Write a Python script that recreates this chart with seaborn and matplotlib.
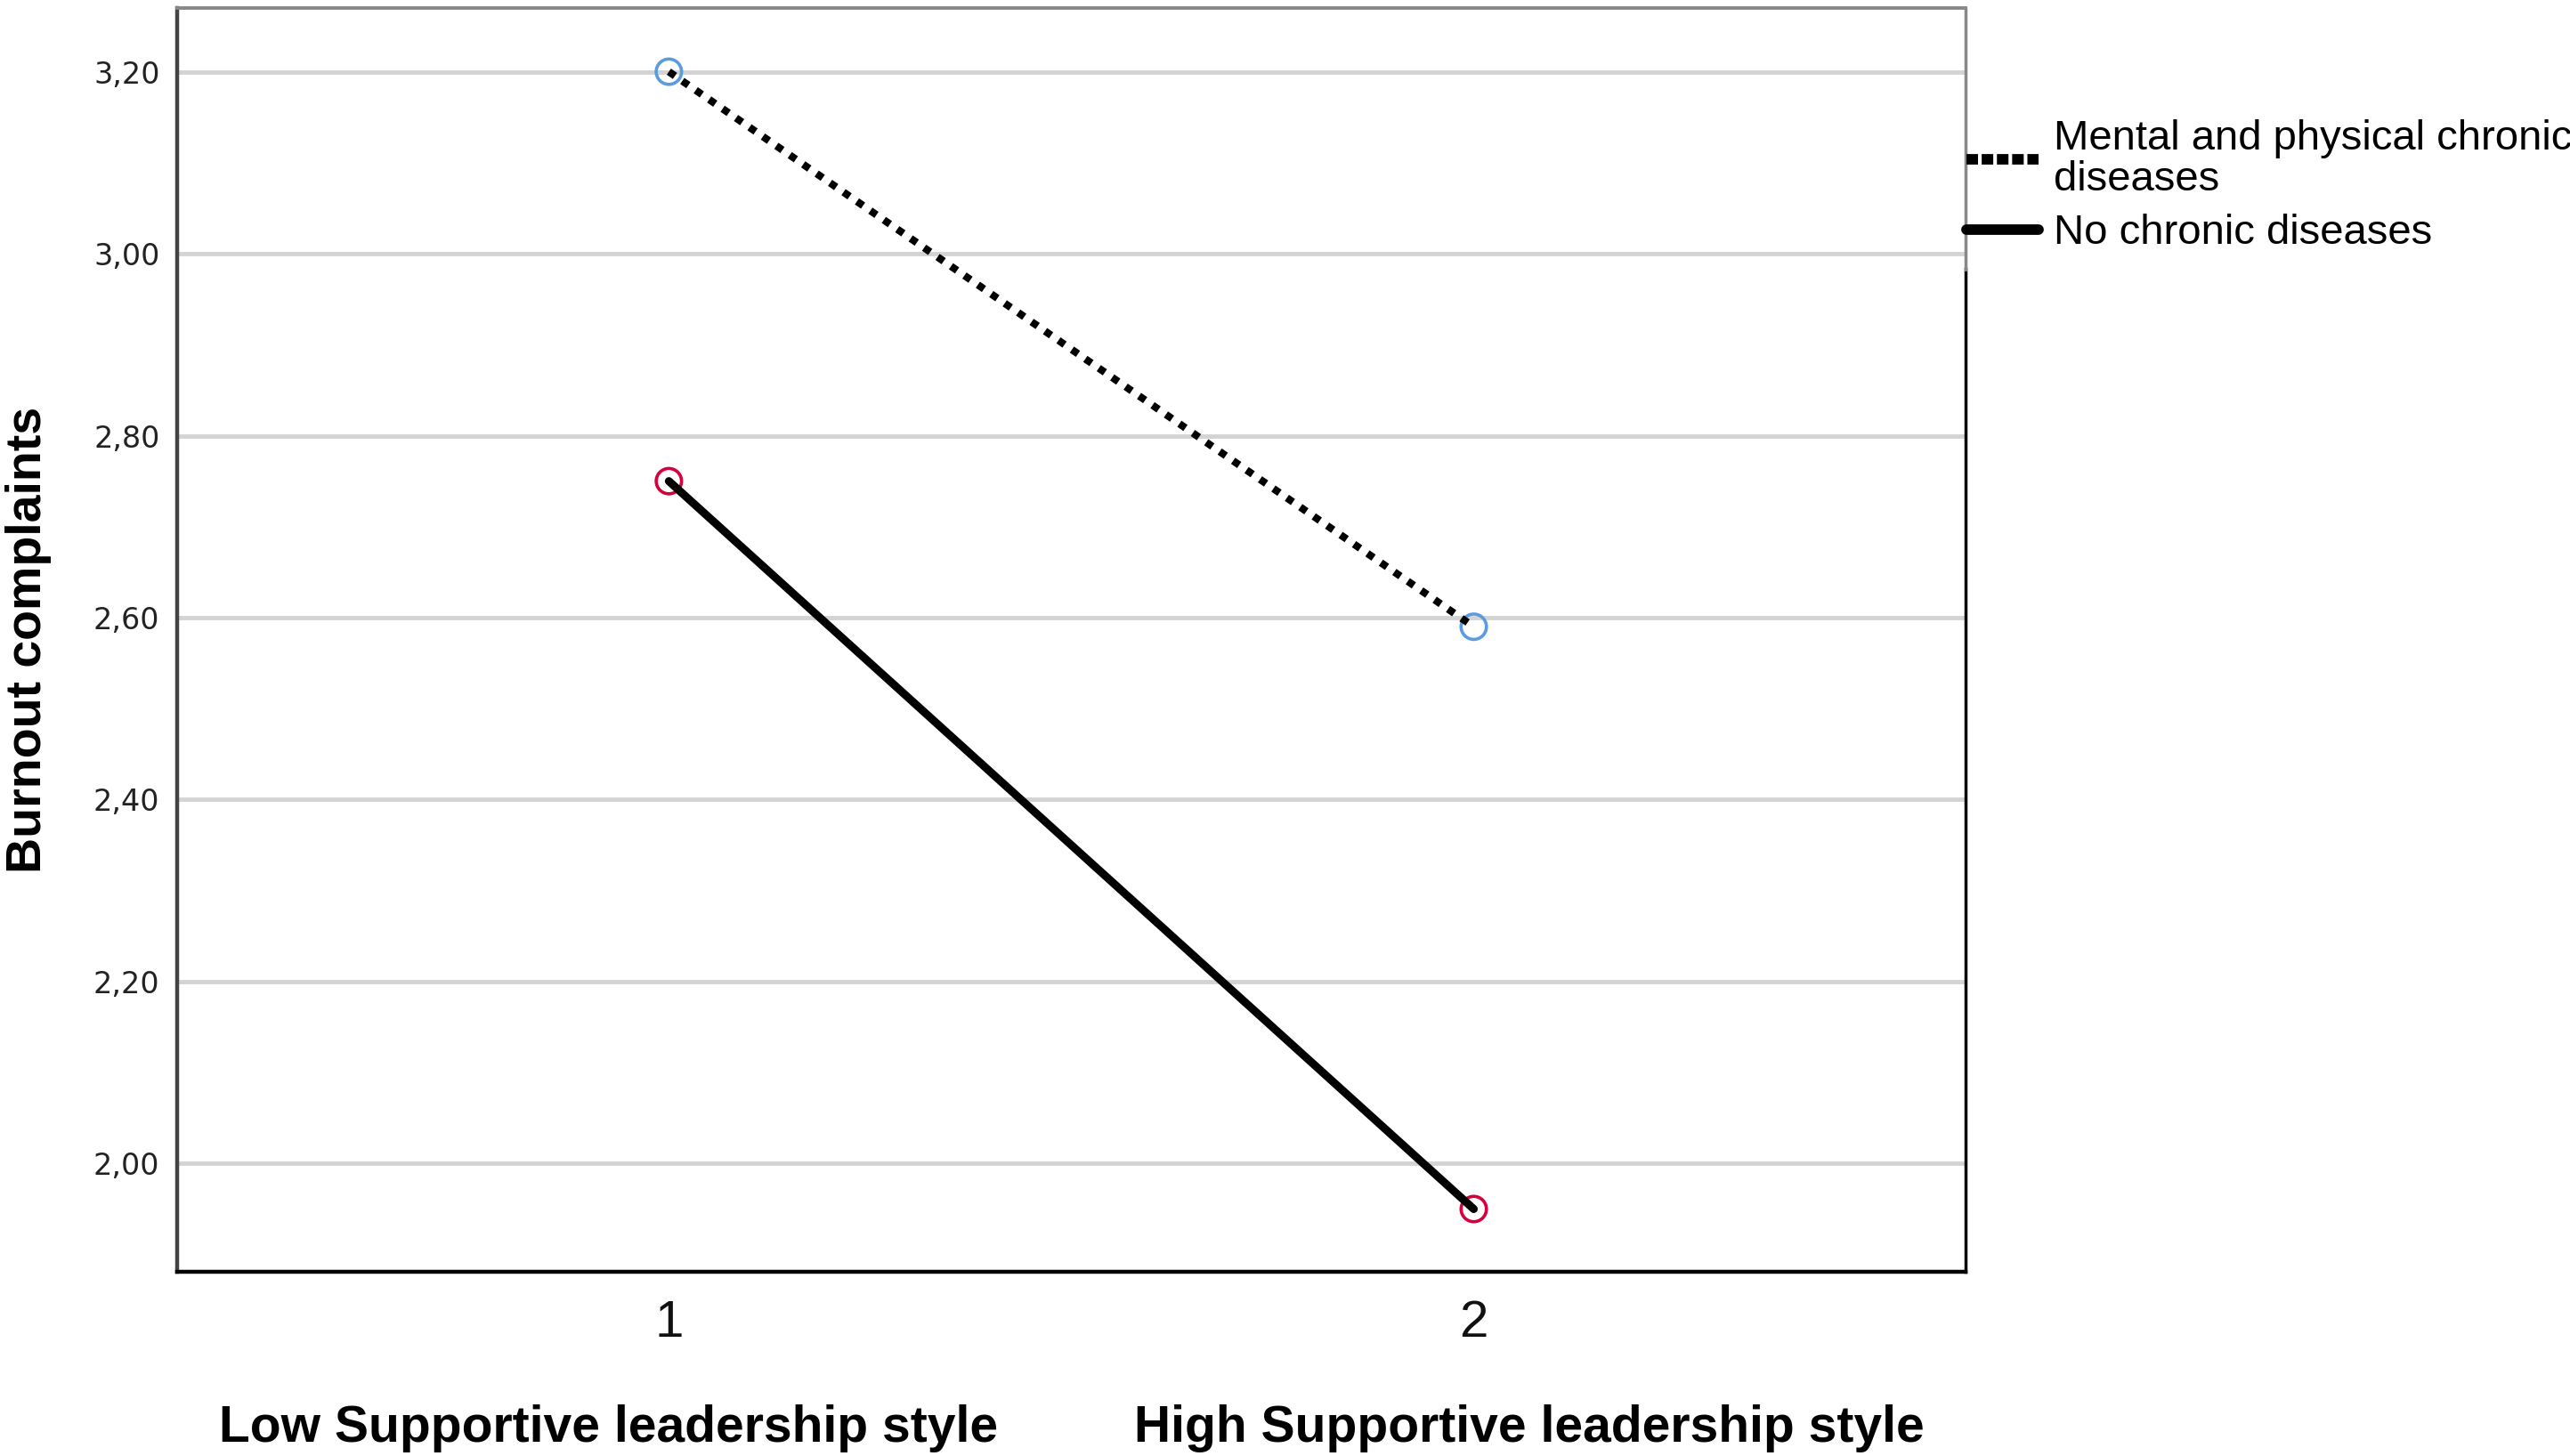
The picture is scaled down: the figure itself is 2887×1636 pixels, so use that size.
import pandas as pd
import matplotlib.pyplot as plt
import seaborn as sns
from matplotlib.lines import Line2D

# values
leadership = [1, 2]
groups = ['Mental and physical chronic\ndiseases', 'No chronic diseases']
mental_chronic = [3.20, 2.59]
no_chronic = [2.75, 1.95]
y_ticks = [2.00, 2.20, 2.40, 2.60, 2.80, 3.00, 3.20]
x_titles = ['Low Supportive leadership style', 'High Supportive leadership style']

df = pd.DataFrame({
    'leadership': leadership * 2,
    'burnout': mental_chronic + no_chronic,
    'group': [groups[0]] * 2 + [groups[1]] * 2,
})

sns.set_style('white')
plt.rcParams['font.family'] = ['DejaVu Sans']
plt.rcParams['text.color'] = 'black'
lib = ['Liberation Sans', 'DejaVu Sans']

fig = plt.figure(figsize=(28.87, 16.36), dpi=100)
ax = fig.add_axes([0.0689, 0.1265, 0.6959, 0.868])

sns.lineplot(data=df, x='leadership', y='burnout', style='group', color='black',
             dashes={groups[0]: (1.0, 1.2), groups[1]: ''}, linewidth=6.5,
             ax=ax, legend=False, zorder=3)
for ln in ax.lines:
    ln.set_dash_capstyle('butt')
ax.lines[0].set_linewidth(6)

sns.scatterplot(data=df, x='leadership', y='burnout', hue='group',
                palette={groups[0]: '#5b9be0', groups[1]: '#d8003c'},
                s=420, linewidth=2.6, ax=ax, legend=False, zorder=2)
pts = ax.collections[-1]
pts.set_edgecolors(pts.get_facecolors())
pts.set_facecolors('none')

ax.set_xlim(0.389, 2.611)
ax.set_ylim(1.881, 3.27)
ax.set_xticks(leadership)
ax.set_xticklabels([str(v) for v in leadership], family=lib, fontsize=42, color='#111111')
ax.set_yticks(y_ticks)
ax.set_yticklabels([f'{v:.2f}'.replace('.', ',') for v in y_ticks], fontsize=24, color='#222222')
ax.tick_params(axis='both', length=0)
ax.tick_params(axis='y', pad=14)
ax.tick_params(axis='x', pad=22)

ax.grid(axis='y', color='#d3d3d3', linewidth=3.5)
ax.grid(axis='x', visible=False)
ax.set_axisbelow(True)

ax.set_xlabel('')
ax.set_ylabel('Burnout complaints', fontsize=40, fontweight='bold', family=lib, color='black')
ax.yaxis.label.set_verticalalignment('center')
ax.yaxis.set_label_coords(-0.083, 0.5)

for side in ['left', 'right', 'top', 'bottom']:
    ax.spines[side].set_visible(True)
ax.spines['left'].set_color('#444444')
ax.spines['left'].set_linewidth(3.2)
ax.spines['top'].set_color('#888888')
ax.spines['top'].set_linewidth(2.8)
ax.spines['bottom'].set_color('black')
ax.spines['bottom'].set_linewidth(3.2)
ax.spines['right'].set_color('black')
ax.spines['right'].set_linewidth(2.5)
ax.spines['right'].set_bounds(1.881, 2.983)
ax.plot([1, 1], [0.793, 1], transform=ax.transAxes, color='#888888',
        linewidth=2.5, clip_on=False, zorder=4)

for xpos, title in zip([0.2366, 0.5950], x_titles):
    fig.text(xpos, 0.0098, title, ha='center', va='baseline', fontsize=41,
             fontweight='bold', family=lib, color='black')

handles = [Line2D([], [], color='black', linewidth=8.5, linestyle=(0, (1.1, 0.35))),
           Line2D([], [], color='black', linewidth=8.5)]
leg = fig.legend(handles, groups, loc='upper left', bbox_to_anchor=(0.7652, 0.918),
                 frameon=False, prop={'family': lib, 'size': 34},
                 handlelength=1.72, handletextpad=0.36, borderpad=0,
                 borderaxespad=0, labelspacing=0.35)
for t in leg.get_texts():
    t.set_linespacing(1.05)
    t.set_color('black')

fig.savefig('out.png', dpi=100)
